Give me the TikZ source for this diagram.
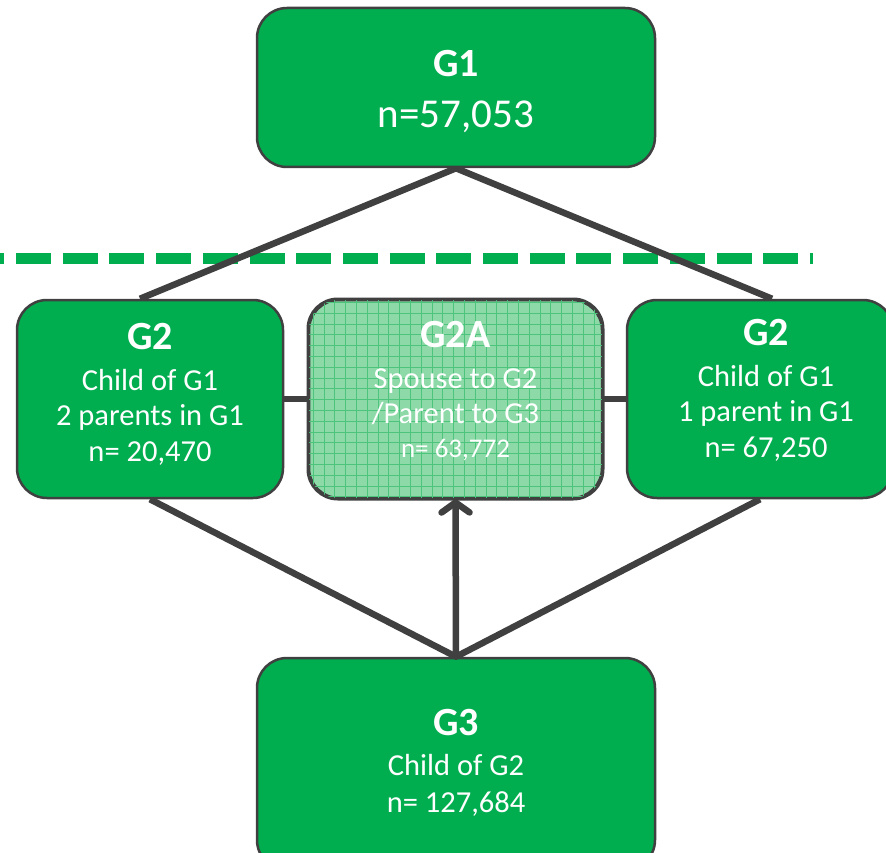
\documentclass[tikz,border=0pt]{standalone}
\usepackage{fontspec}
\setmainfont{Carlito}
\usetikzlibrary{arrows.meta,backgrounds}
\definecolor{boxgreen}{HTML}{00AE50}
\definecolor{lightgreen}{HTML}{8DDAA8}
\definecolor{gridgreen}{HTML}{4CC47C}
\definecolor{edgegray}{HTML}{404040}
\tikzset{
  box/.style={draw=edgegray, line width=2.5pt, rounded corners=30pt, fill=boxgreen, inner sep=0pt},
  conn/.style={draw=edgegray, line width=6.5pt},
  hdr/.style={anchor=base, text=white, font=\fontsize{40}{42}\selectfont\bfseries, inner sep=0pt},
  txt/.style={anchor=base, text=white, font=\fontsize{30.5}{34}\selectfont, inner sep=0pt},
  bigtxt/.style={anchor=base, text=white, font=\fontsize{41}{44}\selectfont, inner sep=0pt},
}
\begin{document}
\begin{tikzpicture}[x=1pt,y=-1pt]
\useasboundingbox (0,0) rectangle (886,853);
\clip (0,0) rectangle (886,853);
% boxes
\node[box, minimum width=398pt, minimum height=159pt] (G1) at (456,87.5) {};
\node[box, minimum width=266pt, minimum height=198pt] (G2L) at (150,399) {};
\node[box, fill=lightgreen, minimum width=293pt, minimum height=198pt] (G2A) at (455.5,399) {};
\node[box, minimum width=266pt, minimum height=198pt] (G2R) at (760,399) {};
\node[box, minimum width=398pt, minimum height=212pt] (G3) at (456,764) {};
% grid texture of G2A
\begin{scope}
  \clip[rounded corners=30pt] (G2A.south west) rectangle (G2A.north east);
  \draw[gridgreen, line width=0.8pt, step=10.8pt] (G2A.south west) grid (G2A.north east);
\end{scope}
\draw[edgegray, line width=2.5pt, rounded corners=30pt] (G2A.south west) rectangle (G2A.north east);
% texts
\node[hdr] (t1a) at (456,77) {G1};
\node[bigtxt] (t1b) at (456,128) {n=57,053};
\node[hdr] (t2a) at (150,349) {G2};
\node[txt] (t2b) at (150,390) {Child of G1};
\node[txt] (t2c) at (150,425) {2 parents in G1};
\node[txt] (t2d) at (150,461) {n= 20,470};
\node[hdr] (t3a) at (455.5,347) {G2A};
\node[txt] (t3b) at (455.5,388) {Spouse to G2};
\node[txt] (t3c) at (455.5,423) {/Parent to G3};
\node[txt, font=\fontsize{27}{30}\selectfont] (t3d) at (455.5,457) {n= 63,772};
\node[hdr] (t4a) at (766,345) {G2};
\node[txt] (t4b) at (766,386) {Child of G1};
\node[txt] (t4c) at (766,421) {1 parent in G1};
\node[txt] (t4d) at (766,457) {n= 67,250};
\node[hdr] (t5a) at (456,735) {G3};
\node[txt] (t5b) at (456,775) {Child of G2};
\node[txt] (t5c) at (456,812) {n= 127,684};
% connectors behind boxes
\begin{scope}[on background layer]
  \draw[boxgreen, line width=11pt, dash pattern=on 35pt off 11.7pt] (-30.7,258) -- (812.5,258);
  \draw[conn] ([xshift=-10pt]G2L.north) -- (G1.south) -- ([xshift=12pt]G2R.north);
  \draw[conn] (G2L.south) -- (G3.north) -- (G2R.south);
  \draw[conn] (G2L.east) -- (G2A.west);
  \draw[conn] (G2A.east) -- (G2R.west);
\end{scope}
\draw[conn, line cap=round, -{Straight Barb[length=10pt, width=28pt, round]}] (G3.north) -- (G2A.south);
\end{tikzpicture}
\end{document}
